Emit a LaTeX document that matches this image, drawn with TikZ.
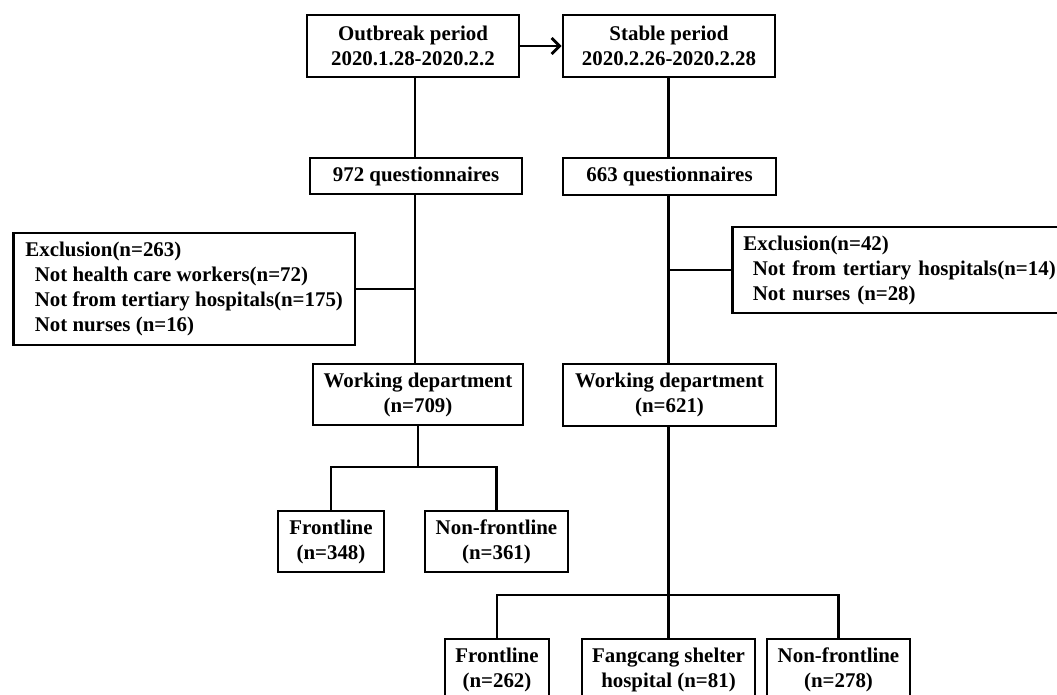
\documentclass[tikz,border=0pt]{standalone}
\usepackage{fontspec}
\setmainfont{Liberation Serif}
\usetikzlibrary{arrows.meta}
\begin{document}
\begin{tikzpicture}[x=1pt,y=-1pt,
  box/.style={draw, line width=2.8pt, inner sep=0pt, align=center,
    font=\fontsize{20.9}{25}\selectfont\bfseries},
  exbox/.style={box, align=left, anchor=west},
  ln/.style={line width=2.8pt}]
\useasboundingbox (0,0) rectangle (1057,695);
\clip (0,0) rectangle (1057,695);
% top row
\node[box, minimum width=212pt, minimum height=62pt] (out) at (413,46) {Outbreak period\\2020.1.28-2020.2.2};
\node[box, minimum width=212pt, minimum height=62pt] (stab) at (669,46) {Stable period\\2020.2.26-2020.2.28};
% questionnaires
\node[box, minimum width=212pt, minimum height=36pt] (q1) at (416,176) {972 questionnaires};
\node[box, minimum width=213pt, minimum height=37pt] (q2) at (669.5,176.5) {663 questionnaires};
% exclusions
\node[exbox, inner xsep=12pt, minimum height=112pt] (ex1) at (12,289)
  {Exclusion(n=263)\\\hspace*{0.45em}Not health care workers(n=72)\\\hspace*{0.45em}Not from tertiary hospitals(n=175)\\\hspace*{0.45em}Not nurses (n=16)};
\node[exbox, text width=330pt, inner xsep=11pt, minimum height=86pt] (ex2) at (731,270)
  {Exclusion(n=42)\\\hspace*{0.45em}Not from tertiary hospitals(n=14)\\\hspace*{0.45em}Not nurses (n=28)};
% working departments
\node[box, minimum width=210pt, minimum height=61pt] (wd1) at (418,394.5) {Working department\\(n=709)};
\node[box, minimum width=213pt, minimum height=62pt] (wd2) at (669.5,395) {Working department\\(n=621)};
% outbreak split
\node[box, minimum width=106pt, minimum height=61pt] (f1) at (331,541.5) {Frontline\\(n=348)};
\node[box, minimum width=143pt, minimum height=61pt] (nf1) at (496.5,541.5) {Non-frontline\\(n=361)};
% stable split
\node[box, minimum width=104pt, minimum height=61pt] (f2) at (497,669.5) {Frontline\\(n=262)};
\node[box, minimum width=173pt, minimum height=61pt] (fc) at (668.5,669.5) {Fangcang shelter\\hospital (n=81)};
\node[box, minimum width=143pt, minimum height=61pt] (nf2) at (838.5,669.5) {Non-frontline\\(n=278)};
% trunk coordinates
\coordinate (t1) at (415,0);
\coordinate (t2) at (668.5,0);
\coordinate (h1) at (418,467);
\coordinate (h2) at (668.5,595);
% connectors
\draw[ln, -{Straight Barb[length=8pt,width=16pt]}] (out.east) -- (stab.west);
\draw[ln] (out.south -| t1) -- (q1.north -| t1);
\draw[ln] (q1.south -| t1) -- (wd1.north -| t1);
\draw[ln] (ex1.east) -- (ex1.east -| t1);
\draw[ln] (stab.south -| t2) -- (q2.north -| t2);
\draw[ln] (q2.south -| t2) -- (wd2.north -| t2);
\draw[ln] (ex2.west) -- (ex2.west -| t2);
\draw[ln] (wd1.south -| h1) -- (h1);
\draw[ln] (f1.north) |- (h1) -| (nf1.north);
\draw[ln] (wd2.south -| h2) -- (h2);
\draw[ln] (h2) -- (fc.north -| h2);
\draw[ln] (f2.north) |- (h2) -| (nf2.north);
\end{tikzpicture}
\end{document}
